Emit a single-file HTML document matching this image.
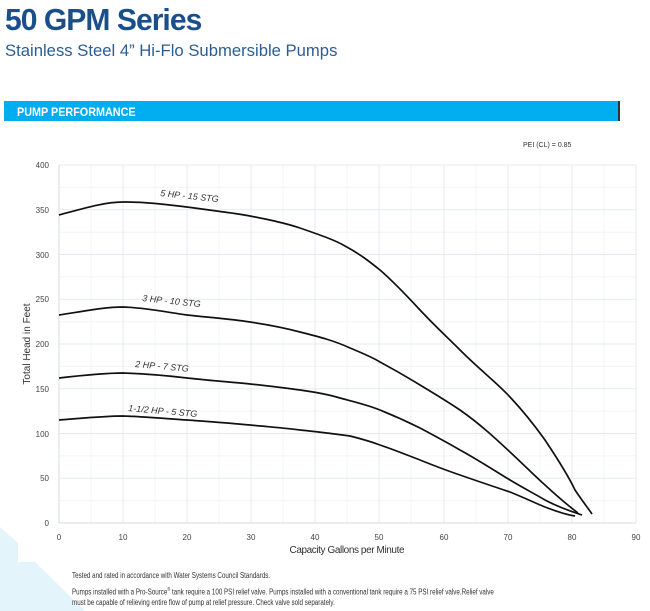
<!DOCTYPE html>
<html><head><meta charset="utf-8"><style>
body{margin:0;width:650px;height:611px;background:#fff;font-family:"Liberation Sans",sans-serif;overflow:hidden;position:relative}
.t{position:absolute;left:5px;top:2px;font-size:31px;font-weight:bold;color:#1b4f8c;letter-spacing:-1px;transform:scaleX(.97);transform-origin:left;white-space:nowrap}
.s{position:absolute;left:5px;top:41px;font-size:17px;color:#2a5d94;transform:scaleX(.98);transform-origin:left;white-space:nowrap}
.b{position:absolute;left:4px;top:101px;width:614px;height:20px;background:#00aeef;border-right:2px solid #333}
.b span{position:absolute;left:13px;top:4px;color:#fff;font-weight:bold;font-size:12px;transform:scaleX(.9);transform-origin:left;display:inline-block}
.f{position:absolute;left:72px;font-size:8px;color:#333;transform:scaleX(.78);transform-origin:left}
</style></head><body>
<svg width="650" height="611" style="position:absolute;left:0;top:0">
<polygon points="0,527 18,543 18,562 35,562 85,611 0,611" fill="#e3f5fa"/>
<g stroke="#f2f4f7" stroke-width="1">
<line x1="59" y1="187.4" x2="636" y2="187.4"/><line x1="59" y1="232.2" x2="636" y2="232.2"/><line x1="59" y1="276.9" x2="636" y2="276.9"/><line x1="59" y1="321.7" x2="636" y2="321.7"/><line x1="59" y1="366.4" x2="636" y2="366.4"/><line x1="59" y1="411.1" x2="636" y2="411.1"/><line x1="59" y1="455.9" x2="636" y2="455.9"/><line x1="59" y1="500.6" x2="636" y2="500.6"/>
<line x1="91" y1="165" x2="91" y2="523"/><line x1="155" y1="165" x2="155" y2="523"/><line x1="219" y1="165" x2="219" y2="523"/><line x1="283" y1="165" x2="283" y2="523"/><line x1="347" y1="165" x2="347" y2="523"/><line x1="411" y1="165" x2="411" y2="523"/><line x1="476" y1="165" x2="476" y2="523"/><line x1="540" y1="165" x2="540" y2="523"/><line x1="604" y1="165" x2="604" y2="523"/>
</g>
<g stroke="#e6eaf0" stroke-width="1">
<line x1="59" y1="165" x2="636" y2="165"/><line x1="59" y1="209.8" x2="636" y2="209.8"/><line x1="59" y1="254.5" x2="636" y2="254.5"/><line x1="59" y1="299.3" x2="636" y2="299.3"/><line x1="59" y1="344" x2="636" y2="344"/><line x1="59" y1="388.8" x2="636" y2="388.8"/><line x1="59" y1="433.5" x2="636" y2="433.5"/><line x1="59" y1="478.3" x2="636" y2="478.3"/>
<line x1="123" y1="165" x2="123" y2="523"/><line x1="187" y1="165" x2="187" y2="523"/><line x1="251" y1="165" x2="251" y2="523"/><line x1="315" y1="165" x2="315" y2="523"/><line x1="379" y1="165" x2="379" y2="523"/><line x1="444" y1="165" x2="444" y2="523"/><line x1="508" y1="165" x2="508" y2="523"/><line x1="572" y1="165" x2="572" y2="523"/><line x1="636" y1="165" x2="636" y2="523"/>
</g>
<g stroke="#d5dce5" stroke-width="1"><line x1="59" y1="523" x2="636" y2="523"/><line x1="59" y1="165" x2="59" y2="523"/></g>
<g font-size="8" fill="#444" text-anchor="end">
<text x="49" y="168">400</text><text x="49" y="213">350</text><text x="49" y="258">300</text><text x="49" y="302">250</text><text x="49" y="347">200</text><text x="49" y="392">150</text><text x="49" y="437">100</text><text x="49" y="481">50</text><text x="49" y="526">0</text>
</g>
<g font-size="8" fill="#444" text-anchor="middle">
<text x="59" y="540">0</text><text x="123" y="540">10</text><text x="187" y="540">20</text><text x="251" y="540">30</text><text x="315" y="540">40</text><text x="379" y="540">50</text><text x="444" y="540">60</text><text x="508" y="540">70</text><text x="572" y="540">80</text><text x="636" y="540">90</text>
</g>
<text x="347" y="553" font-size="10" fill="#333" text-anchor="middle" textLength="115">Capacity Gallons per Minute</text>
<text transform="translate(30,344) rotate(-90)" font-size="10" fill="#333" text-anchor="middle">Total Head in Feet</text>
<text x="523" y="147" font-size="7" fill="#333">PEI (CL) = 0.85</text>
<g fill="none" stroke="#111" stroke-width="1.7" stroke-linejoin="round">
<path d="M59,215 C85,208 105,202 123,202 C150,202 170,205 187,207 C215,211 235,213 250,216 C270,220 285,223 300,228 C320,235 335,240 345,246 C360,254 370,262 380,270 C395,283 408,297 420,310 C435,326 448,338 460,350 C480,370 495,381 510,397 C525,413 535,426 545,440 C557,458 568,475 575,490 C583,502 588,508 592,514"/>
<path d="M59,315 C85,311 105,307 123,307 C150,308 170,313 187,315 C215,318 230,319 250,322 C270,325 285,328 300,332 C320,337 335,341 350,348 C362,353 372,357 380,362 C395,370 407,377 420,385 C435,394 448,402 460,410 C480,424 495,438 510,452 C525,466 535,476 545,485 C558,497 570,507 578,513"/>
<path d="M59,378 C85,375 105,373 123,373 C150,374 170,376 187,378 C215,381 230,382 250,384 C270,386 285,388 300,390 C315,392 330,395 340,398 C355,402 368,405 380,410 C395,416 408,422 420,428 C435,436 448,443 460,450 C480,461 495,471 510,480 C525,489 535,494 545,500 C560,508 573,512 582,515"/>
<path d="M59,420 C85,418 105,416 123,416 C150,417 170,419 187,420 C215,422 230,423 250,425 C270,427 285,428 300,430 C320,432 335,434 350,436 C362,439 372,442 380,445 C395,450 407,455 420,460 C435,466 448,471 460,475 C480,482 495,487 510,492 C525,498 535,503 545,507 C558,512 568,515 575,516"/>
</g>
<g font-size="9" fill="#333" font-style="italic">
<text transform="translate(160,196) rotate(6)">5 HP - 15 STG</text>
<text transform="translate(142,301) rotate(6)">3 HP - 10 STG</text>
<text transform="translate(135,367) rotate(5)">2 HP - 7 STG</text>
<text transform="translate(128,411) rotate(5)">1-1/2 HP - 5 STG</text>
</g>
</svg>
<div class="t">50 GPM Series</div>
<div class="s">Stainless Steel 4” Hi-Flo Submersible Pumps</div>
<div class="b"><span>PUMP PERFORMANCE</span></div>
<div class="f" style="top:571px;white-space:nowrap">Tested and rated in accordance with Water Systems Council Standards.</div>
<div class="f" style="top:585px;width:556px;line-height:10px">Pumps installed with a Pro-Source<sup style="font-size:5px">®</sup> tank require a 100 PSI relief valve. Pumps installed with a conventional tank require a 75 PSI relief valve.Relief valve must be capable of relieving entire flow of pump at relief pressure. Check valve sold separately.</div>
</body></html>
